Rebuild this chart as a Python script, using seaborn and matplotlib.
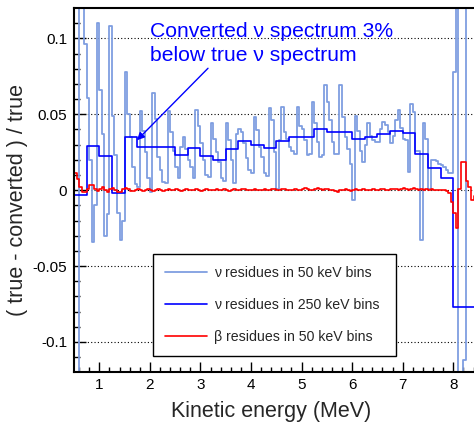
import numpy as np
import pandas as pd
import matplotlib
matplotlib.use("Agg")
import matplotlib.pyplot as plt
import seaborn as sns

# ---------------- data ----------------
fine_start = 0.50      # first 50 keV bin edge (MeV)
fine_width = 0.05
coarse_start = 0.50
coarse_width = 0.25

# nu residues, 50 keV bins (from 0.50 MeV)
nu_50 = [
    -0.30, -0.30, 0.30, 0.30, 0.096, 0.061, 0.020, -0.034, -0.010, 0.110,
    0.066, 0.037, -0.030, -0.016, 0.108, 0.049, 0.023, -0.015, -0.033, -0.020,
    0.078, 0.050, 0.035, 0.015, 0.004, 0.002, 0.052, 0.039, 0.025, 0.008,
    -0.001, 0.064, 0.047, 0.022, 0.013, 0.0055, 0.005, 0.052, 0.038, 0.026,
    0.015, 0.0077, 0.0285, 0.0347, 0.0274, 0.0197, 0.015, 0.0077, 0.053, 0.042,
    0.031, 0.0197, 0.010, 0.0088, 0.044, 0.0336, 0.025, 0.0186, 0.0077, 0.006,
    0.044, 0.033, 0.0197, 0.0044, 0.037, 0.0406, 0.038, 0.031, 0.021, 0.013,
    0.011, 0.048, 0.0395, 0.0285, 0.022, 0.011, 0.009, 0.054, 0.046, 0.025,
    0.001, 0.033, 0.055, 0.038, 0.034, 0.0285, 0.026, 0.024, 0.055, 0.042,
    0.040, 0.033, 0.023, 0.024, 0.058, 0.044, 0.032, 0.022, 0.023, 0.069,
    0.058, 0.046, 0.032, 0.024, 0.024, 0.069, 0.048, 0.035, 0.027, 0.0175,
    -0.0066, 0.049, 0.039, 0.026, 0.0186, 0.030, 0.044, 0.036, 0.033, 0.032,
    0.032, 0.040, 0.045, 0.043, 0.038, 0.031, 0.036, 0.046, 0.053, 0.041,
    0.034, 0.033, 0.012, 0.057, 0.0515, 0.026, 0.026, -0.033, 0.044, 0.034,
    0.001, 0.0197, 0.0197, 0.019, 0.0175, 0.0164, 0.015, 0.013, 0.011, 0.011,
    0.078, 0.30, -0.30, -0.30, -0.112, 0.30, 0.30, 0.30, 0.30,
]

# nu residues, 250 keV bins (from 0.50 MeV)
nu_250 = [
    -0.003, 0.029, 0.0224, -0.002, 0.0347, 0.0285, 0.0285, 0.0285, 0.023, 0.0278,
    0.0222, 0.0197, 0.0274, 0.0325, 0.030, 0.0278, 0.0325, 0.0353, 0.0353, 0.040,
    0.0386, 0.038, 0.0338, 0.0347, 0.0368, 0.039, 0.0378, 0.0237, 0.0147, 0.0082,
    -0.077, -0.077,
]

# beta residues, 50 keV bins (from 0.50 MeV)
beta_50 = [
    0.0115, 0.0075, 0.0020, -0.0015, -0.0015, 0.0010, 0.0033, 0.0033, 0.0010, -0.0008,
    0.0005, 0.0018, 0.0003, -0.0010, 0.0005, 0.0015, 0.0000, -0.0015, -0.0012, 0.0008,
    0.0015, 0.0006, -0.0006,
    -0.0004, 0.0003, 0.0008, 0.0002, -0.0005, 0.0000, 0.0006, 0.0003, -0.0003, 0.0004,
    0.0007, 0.0001, -0.0004, 0.0002, 0.0005, -0.0002, 0.0001, 0.0006, 0.0002, -0.0003,
    0.0003, 0.0007, 0.0004, -0.0002, 0.0000, 0.0005, 0.0002, -0.0004, 0.0003, 0.0006,
    0.0001, -0.0002, 0.0004, 0.0008, 0.0003, 0.0000, 0.0005, 0.0002, -0.0003, 0.0004,
    0.0006, 0.0002, 0.0000, 0.0005, 0.0009, 0.0004, -0.0002, 0.0003, 0.0007, 0.0002,
    -0.0001, 0.0004, 0.0008, 0.0003, 0.0000, 0.0006, 0.0010, 0.0004, 0.0001, 0.0005,
    0.0009, 0.0003, -0.0002, 0.0004, 0.0007, 0.0002, 0.0000, 0.0006, 0.0011, 0.0005,
    0.0001, 0.0004, 0.0009, 0.0012, 0.0006, 0.0002, 0.0005, 0.0010, 0.0004, 0.0000,
    -0.0006, -0.0010, -0.0002, 0.0003, 0.0007, 0.0002, -0.0003, 0.0004, 0.0008, 0.0003,
    0.0000, 0.0005, 0.0002, -0.0002, 0.0003, 0.0007, 0.0004, 0.0001, 0.0006, 0.0009,
    0.0004, 0.0000, 0.0005, 0.0010, 0.0006, 0.0002, 0.0007, 0.0012, 0.0008, 0.0003,
    0.0005, 0.0013, 0.0009, 0.0003, 0.0006, 0.0004, 0.0007, 0.0003, 0.0005, 0.0002,
    0.0004, 0.0001, 0.0003, -0.0001,
    -0.0005, -0.0020, -0.0077, -0.0150, -0.0250, 0.0010, 0.0186, 0.0186, 0.0060, 0.0018,
    -0.0066, -0.0040,
]

labels = ["\u03bd residues in 50 keV bins",
          "\u03bd residues in 250 keV bins",
          "\u03b2 residues in 50 keV bins"]
x_ticks = [1, 2, 3, 4, 5, 6, 7, 8]
x_ticklabels = ["1", "2", "3", "4", "5", "6", "7", "8"]
y_ticks = [-0.1, -0.05, 0.0, 0.05, 0.1]
y_ticklabels = ["-0.1", "-0.05", "0", "0.05", "0.1"]
x_title = "Kinetic energy (MeV)"
y_title = "( true - converted ) / true"
note = "Converted \u03bd spectrum 3%\nbelow true \u03bd spectrum"


def step_frame(values, start, width):
    vals = list(values) + [values[-1]]
    edges = start + width * np.arange(len(vals))
    return pd.DataFrame({"E": edges, "r": vals})


df_nu50 = step_frame(nu_50, fine_start, fine_width)
df_nu250 = step_frame(nu_250, coarse_start, coarse_width)
df_b50 = step_frame(beta_50, fine_start, fine_width)

# ---------------- style ----------------
sns.set_style("ticks")
plt.rcParams["font.family"] = ["Liberation Sans", "DejaVu Sans"]
plt.rcParams["axes.unicode_minus"] = False

W, H = 474, 422
fig = plt.figure(figsize=(W / 100, H / 100), dpi=100)
px_per_mev = 50.57
ax_left, ax_right, ax_top, ax_bot = 74.0, 478.0, 8.0, 372.3
ax = fig.add_axes([ax_left / W, (H - ax_bot) / H, (ax_right - ax_left) / W, (ax_bot - ax_top) / H])

c_light = "#7f9ee0"
c_dark = "#0000ff"
c_red = "#ff0000"

sns.lineplot(data=df_nu50, x="E", y="r", drawstyle="steps-post", color=c_light,
             lw=1.3, estimator=None, sort=False, label=labels[0], ax=ax)
sns.lineplot(data=df_nu250, x="E", y="r", drawstyle="steps-post", color=c_dark,
             lw=1.2, estimator=None, sort=False, label=labels[1], ax=ax)
sns.lineplot(data=df_b50, x="E", y="r", drawstyle="steps-post", color=c_red,
             lw=1.2, estimator=None, sort=False, label=labels[2], ax=ax)

ax.set_xlim(0.5, 0.5 + (ax_right - ax_left) / px_per_mev)
ax.set_ylim(-0.12, 0.12)

ax.set_xticks(x_ticks)
ax.set_xticklabels(x_ticklabels)
ax.set_xticks(np.arange(0.6, 8.5, 0.2), minor=True)
ax.set_yticks(y_ticks)
ax.set_yticklabels(y_ticklabels)
ax.set_yticks(np.arange(-0.11, 0.115, 0.01), minor=True)

ax.tick_params(axis="both", which="both", direction="in", colors="black",
               labelsize=11, width=1.0)
ax.tick_params(axis="y", which="major", length=8.5, pad=5)
ax.tick_params(axis="y", which="minor", length=4.3)
ax.tick_params(axis="x", which="major", length=7.5, pad=4)
ax.tick_params(axis="x", which="minor", length=3.8)

for s in ["left", "bottom", "top", "right"]:
    ax.spines[s].set_linewidth(1.5)
    ax.spines[s].set_color("black")

ax.yaxis.grid(True, which="major", color="black", linestyle=(0, (1, 2)), lw=0.8)
ax.xaxis.grid(False)

ax.set_xlabel(x_title, fontsize=15.5)
ax.set_ylabel(y_title, fontsize=15.5)
ax.xaxis.set_label_coords((271 - ax_left) / (ax_right - ax_left), (ax_bot - 411) / (ax_bot - ax_top))
ax.xaxis.label.set_verticalalignment("center")
ax.yaxis.set_label_coords((18 - ax_left) / (ax_right - ax_left), (ax_bot - 200) / (ax_bot - ax_top))
ax.yaxis.label.set_verticalalignment("center")

ax.text(2.0, 0.0965, note, color=c_dark, fontsize=15.2, ha="left", va="center",
        linespacing=1.3)
ax.annotate("", xy=(1.745, 0.0329), xytext=(3.15, 0.0803),
            arrowprops=dict(arrowstyle="-|>", color=c_dark, lw=1.0,
                            mutation_scale=11, shrinkA=0, shrinkB=0))

leg_x0 = (152.7 - ax_left) / (ax_right - ax_left)
leg_x1 = (395.7 - ax_left) / (ax_right - ax_left)
leg_y1 = (ax_bot - 254.3) / (ax_bot - ax_top)
leg = ax.legend(loc="upper left", bbox_to_anchor=(leg_x0, leg_y1 - 0.3, leg_x1 - leg_x0, 0.3),
                mode="expand", fontsize=10.2, frameon=True, fancybox=False,
                edgecolor="black", framealpha=1.0, borderaxespad=0.0,
                handlelength=3.0, handletextpad=0.45, labelspacing=1.27,
                borderpad=0.85)
leg.get_frame().set_linewidth(1.0)

fig.savefig("out.png", dpi=100)
